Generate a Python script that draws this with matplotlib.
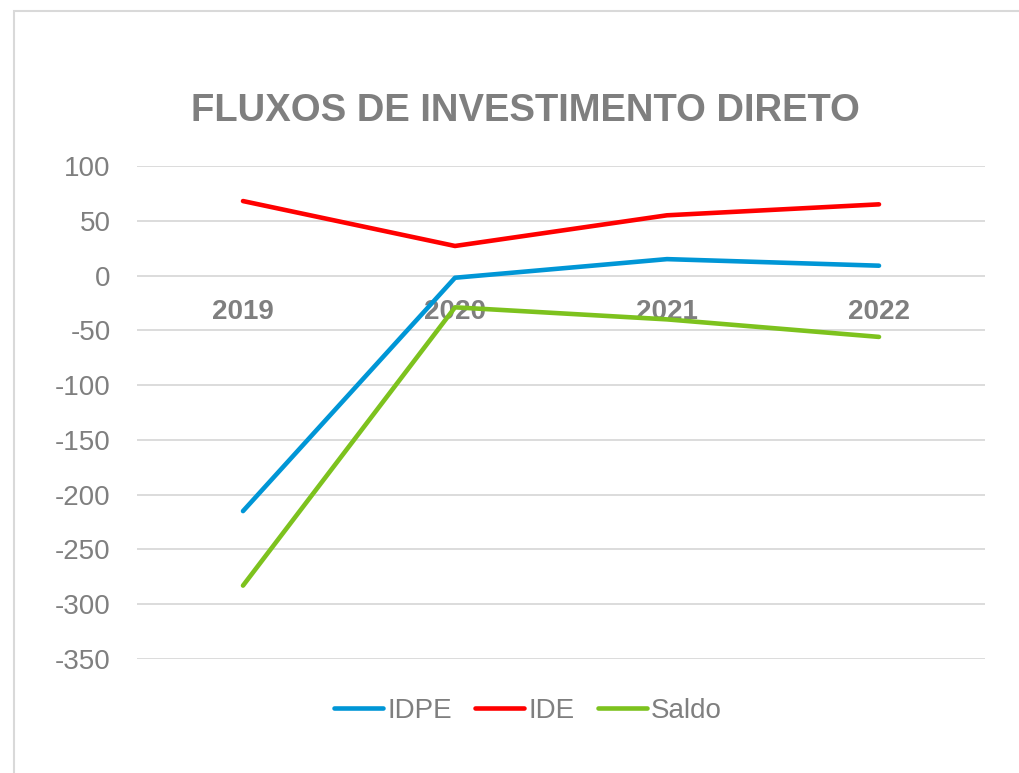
import matplotlib
matplotlib.use("Agg")
import matplotlib.pyplot as plt
from matplotlib.patches import Rectangle

plt.rcParams['font.family'] = ['Liberation Sans', 'DejaVu Sans']

years = ["2019", "2020", "2021", "2022"]
idpe = [-215, -2, 15, 9]
ide = [68, 27, 55, 65]
saldo = [-283, -29, -40, -56]
yticks = [100, 50, 0, -50, -100, -150, -200, -250, -300, -350]

W, H = 1020, 773
fig = plt.figure(figsize=(W / 100, H / 100), dpi=100)
ax = fig.add_axes([137 / W, 1 - 659 / H, (985 - 137) / W, (659 - 166) / H])

gray = "#7f7f7f"
x = list(range(len(years)))
ax.plot(x, idpe, color="#0096D6", lw=3.3, solid_capstyle="round", label="IDPE", zorder=4)
ax.plot(x, ide, color="#FF0000", lw=3.3, solid_capstyle="round", label="IDE", zorder=4)
ax.plot(x, saldo, color="#7DC21E", lw=3.3, solid_capstyle="round", label="Saldo", zorder=4)

ax.set_xlim(-0.5, len(years) - 0.5)
ax.set_ylim(-350, 100)
ax.set_yticks(yticks)
ax.set_yticklabels([str(v) for v in yticks])
ax.tick_params(axis="y", length=0, pad=19, labelsize=20, labelcolor=gray)
ax.set_xticks([])
for s in ax.spines.values():
    s.set_visible(False)
ax.grid(axis="y", color="#d9d9d9", lw=1.3, zorder=0)
ax.set_axisbelow(True)

for i, yr in enumerate(years):
    ax.annotate(yr, xy=(i, 0), xytext=(0, -26), textcoords="offset points",
                ha="center", va="center", fontsize=20, fontweight="bold",
                color=gray, zorder=3)

fig.text(525 / W, 1 - 111 / H, "FLUXOS DE INVESTIMENTO DIRETO", ha="center", va="center",
         fontsize=27.5, fontweight="bold", color=gray)

leg = fig.legend(loc="center", bbox_to_anchor=(528 / W, 1 - 711 / H), ncol=3, frameon=False,
                 fontsize=20, handlelength=1.75, handletextpad=0.15, columnspacing=0.85)
for t in leg.get_texts():
    t.set_color(gray)

fig.patches.append(Rectangle((14 / W, -0.1), 1.2, 1 - 11 / H + 0.1, transform=fig.transFigure,
                             fill=False, edgecolor="#d9d9d9", lw=1.5))

fig.savefig("out.png", dpi=100)
